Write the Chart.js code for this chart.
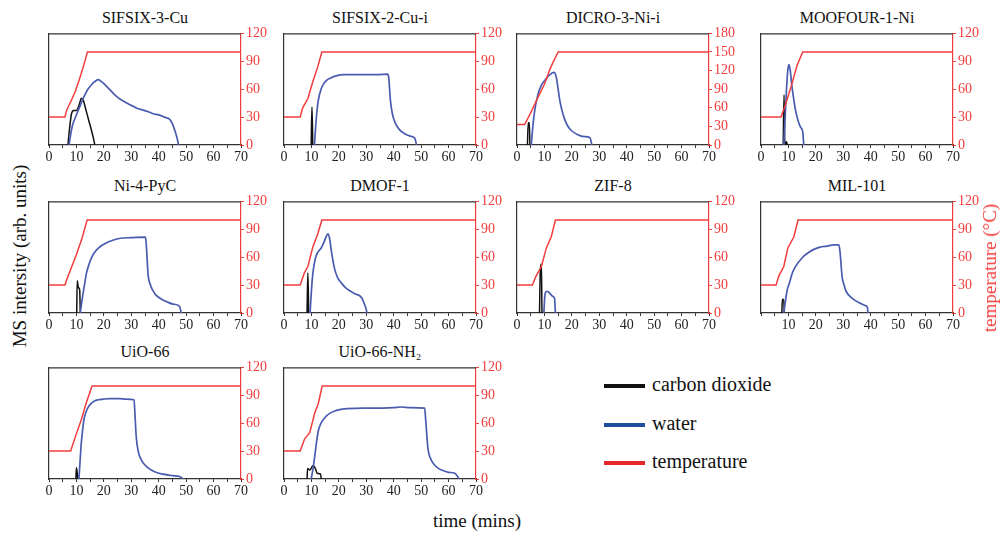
<!DOCTYPE html>
<html>
<head>
<meta charset="utf-8">
<script src="https://cdn.jsdelivr.net/npm/chart.js@4.4.1/dist/chart.umd.min.js"></script>
<style>
  body { margin: 0; background: #fff; }
  #wrap { position: relative; width: 1000px; height: 533px; overflow: hidden; font-family: "Times New Roman", Times, "Liberation Serif", serif; color: #111; }
  .panel { position: absolute; }
  .ttl { position: absolute; font-size: 16px; text-align: center; white-space: nowrap; transform: translate(-50%, -50%); }
  .lab { position: absolute; font-size: 19px; white-space: nowrap; transform: translate(-50%, -50%); }
  .leg { position: absolute; font-size: 20px; white-space: nowrap; }
  .legline { position: absolute; width: 41px; height: 4px; }
</style>
</head>
<body>
<div id="wrap"></div>
<script>
// panel titles and the right (temperature) axis maximum
var panelNames = ['SIFSIX-3-Cu', 'SIFSIX-2-Cu-i', 'DICRO-3-Ni-i', 'MOOFOUR-1-Ni', 'Ni-4-PyC', 'DMOF-1', 'ZIF-8', 'MIL-101', 'UiO-66', 'UiO-66-NH\u2082'];
var tempMax = [120, 120, 180, 120, 120, 120, 120, 120, 120, 120];
var timeTicks = [0, 10, 20, 30, 40, 50, 60, 70];

// [time (mins), value] ; temperature in °C, MS intensity in % of panel height
var sifsix3Temp = [[0,30],[5.8,30],[6.5,38],[8,47],[9.5,57],[11,70],[12.5,84],[14,100],[70,100]];
var sifsix3Water = [[7.3,0],[7.8,8],[8.5,17],[9.5,24],[10.5,30],[11.5,36],[12.5,42],[13.5,47],[14.5,51],[15.5,54],[16.5,56.5],[18,58.5],[19,57],[20,55],[22,50],[24,45],[26,41],[28,38],[30,35.5],[32,33],[34,31.5],[36,30],[38,28],[40,27],[42,25],[44,23],[45,19],[46,12],[47,3],[47.2,0]];
var sifsix3Co2 = [[6.9,0],[7.5,15],[8.2,28],[9,31],[10,31],[11,36],[11.8,42],[12.5,40],[13.5,31],[14.5,22],[15.5,13],[16.2,6],[16.7,0]];

var sifsix2Temp = [[0,30],[5.9,30],[6.8,40],[8.7,50],[10.5,68],[12.3,84],[13.8,100],[70,100]];
var sifsix2Water = [[11.1,0],[11.5,15],[12,30],[12.5,40],[13.5,50],[14.5,55],[15.5,58],[17,60],[19,62],[22,63],[26,63],[30,63],[34,63],[37.8,63.5],[38.2,60],[38.8,40],[39.5,28],[40.5,20],[42,14],[44,10],[46,8],[47.7,6],[48.3,0]];
var sifsix2Co2 = [[9.9,0],[10.2,34],[10.5,0]];

var dicroTemp = [[0,33],[2.8,33],[5,52],[8,80],[10,98],[12,122],[13.3,135],[15,150],[70,150]];
var dicroWater = [[5.2,0],[5.6,12],[6.4,30],[7.7,46],[9,54],[10.5,59],[12,63],[13.5,65],[14.3,61],[15,50],[15.6,40],[16.5,30],[17.4,23],[18.5,17],[19.8,13],[22,9.5],[24.5,7.5],[26.6,6.5],[27.3,0]];
var dicroCo2 = [[3.8,0],[4.1,20],[4.5,20],[4.7,0]];

var moofourTemp = [[0,30],[7.3,30],[9,44],[11,63],[13.2,86],[15.2,100],[70,100]];
var moofourWater = [[8.3,0],[8.8,25],[9.3,50],[9.7,65],[10.1,72],[10.6,68],[11.3,52],[12,40],[12.6,31],[13.5,22],[14.4,16],[15.2,12],[15.6,0]];
var moofourCo2 = [[8.1,0],[8.4,45],[8.7,0],[9.3,3],[9.6,0]];

var ni4pycTemp = [[0,30],[5.8,30],[7,40],[8.7,53],[10,63],[12,80],[13.9,100],[70,100]];
var ni4pycWater = [[11.4,0],[12.2,14],[13,26],[13.6,35],[14.5,43],[15.4,49],[16.5,54],[17.9,58],[19.5,61],[21,63],[23,65],[26,67],[30,67.5],[35.2,68],[35.5,60],[36.1,35],[37,25],[37.9,20],[39,16],[40.9,12.5],[43,10],[45.2,8],[47.6,6],[48.2,0]];
var ni4pycCo2 = [[10.1,0],[10.3,29],[10.6,24],[11,22],[11.2,20],[11.4,0]];

var dmofTemp = [[0,30],[5.9,30],[7.4,43],[8.7,50],[10.5,71],[12.3,85],[13.8,100],[70,100]];
var dmofWater = [[9.5,0],[10,20],[10.5,35],[11.1,45],[11.7,51],[12.5,55],[13.5,58],[14.5,63],[15.3,68],[16,71],[16.6,67],[17.3,55],[18.4,40],[19.5,32],[20.9,27],[22.5,22.5],[24,20],[26,17],[27.6,15.5],[28.5,13],[29.3,8],[30,3],[30.2,0]];
var dmofCo2 = [[8.4,0],[8.7,36],[9,0]];

var zif8Temp = [[0,30],[5.6,30],[7,40],[8.9,50],[10.7,70],[12.5,82],[14,100],[70,100]];
var zif8Water = [[9.8,0],[10.1,14],[10.5,19],[11.1,19.5],[12,17.5],[13,15],[13.7,13],[14,0]];
var zif8Co2 = [[8.2,0],[8.5,38],[8.9,44],[9.1,0]];

var mil101Temp = [[0,30],[5.5,30],[6.5,40],[8.3,50],[9.8,70],[12,82],[13.5,100],[70,100]];
var mil101Water = [[8.3,0],[9,12],[9.5,20],[10.5,28],[11.3,35],[12.2,40],[13.2,44],[14.5,48],[15.6,51],[17.5,54.5],[19.3,57],[21.5,59],[24.1,60],[26.5,61],[28.4,61],[28.8,55],[29.6,32],[30.3,25],[30.9,20],[32,16],[33.9,12],[36,9],[38.2,6.5],[38.8,5],[39,0]];
var mil101Co2 = [[7.6,0],[7.8,12],[8.3,12],[8.5,0]];

var uio66Temp = [[0,30],[7.9,30],[9.9,48],[11.8,64],[13.6,82],[15.7,100],[70,100]];
var uio66Water = [[10.9,0],[11.3,15],[11.8,33],[12.3,45],[12.8,54],[13.5,60],[14.2,64],[15.3,67.5],[16.6,70],[18,71],[19.7,71.5],[22,72],[25.8,72],[28,71.5],[31,71],[31.3,60],[31.8,38],[32.5,25],[33.7,17],[35,12.5],[36.1,10],[38.5,6.5],[41.6,4.3],[45,3],[47.6,2.2],[49,0]];
var uio66Co2 = [[9.8,0],[10,10],[10.3,5],[10.5,0]];

var uio66nh2Temp = [[0,30],[5.9,30],[7.5,43],[9.4,50],[11.2,71],[12.5,81],[13.9,100],[70,100]];
var uio66nh2Water = [[9.9,0],[10.5,8],[11.2,20],[11.8,32],[12.5,43],[13.3,49],[14.3,53],[15.5,56.5],[16.8,59],[18.5,61],[19.9,62],[23,63],[29,63.5],[35,63.5],[40,64],[42.7,64.5],[46,64],[51.3,63.5],[51.6,55],[52.5,27],[53.5,18],[54.4,14],[56,10],[57.5,8],[60,6],[62.4,5],[63.9,0]];
var uio66nh2Co2 = [[8.4,0],[8.6,9.5],[9.4,8],[10.6,12],[11.5,9],[12.1,5],[13.3,4.5],[13.6,0]];

var tempSeries = [sifsix3Temp, sifsix2Temp, dicroTemp, moofourTemp, ni4pycTemp, dmofTemp, zif8Temp, mil101Temp, uio66Temp, uio66nh2Temp];
var waterSeries = [sifsix3Water, sifsix2Water, dicroWater, moofourWater, ni4pycWater, dmofWater, zif8Water, mil101Water, uio66Water, uio66nh2Water];
var co2Series = [sifsix3Co2, sifsix2Co2, dicroCo2, moofourCo2, ni4pycCo2, dmofCo2, zif8Co2, mil101Co2, uio66Co2, uio66nh2Co2];

// layout of the plot boxes
var colLeft = [49, 284, 517, 761];
var rowTop = [31, 199, 365];
var plotW = 192, plotH = 114;

var RED = '#f23c3c', BLUE = '#4a5cb0', BLACK = '#111', FRAME = '#333';
var serif = '"Times New Roman", Times, "Liberation Serif", serif';
var wrap = document.getElementById('wrap');

function pts(arr) {
  return arr.map(function(p){ return {x: p[0], y: p[1]}; });
}

// top edge of the box
var framePlugin = {
  id: 'frame',
  afterDraw: function(chart) {
    var a = chart.chartArea, c = chart.ctx;
    c.save();
    c.strokeStyle = FRAME;
    c.lineWidth = 1.2;
    c.beginPath();
    c.moveTo(a.left, a.top + 0.5);
    c.lineTo(a.right, a.top + 0.5);
    c.stroke();
    c.restore();
  }
};

for (var i = 0; i < panelNames.length; i++) {
  var pl = colLeft[i % 4], pt = rowTop[Math.floor(i / 4)];

  var t = document.createElement('div');
  t.className = 'ttl';
  t.style.left = (pl + plotW / 2) + 'px';
  t.style.top = (pt - 13) + 'px';
  t.textContent = panelNames[i];
  wrap.appendChild(t);

  var box = document.createElement('div');
  box.className = 'panel';
  box.style.left = (pl - 8) + 'px';
  box.style.top = (pt - 8) + 'px';
  box.style.width = (8 + plotW + 34) + 'px';
  box.style.height = (8 + plotH + 22) + 'px';
  var cv = document.createElement('canvas');
  box.appendChild(cv);
  wrap.appendChild(box);

  var skipZero = (i === 7);
  new Chart(cv.getContext('2d'), {
    type: 'line',
    data: {
      datasets: [
        { label: 'temperature', data: pts(tempSeries[i]), yAxisID: 'y1', borderColor: RED, borderWidth: 1.5, pointRadius: 0, tension: 0 },
        { label: 'water', data: pts(waterSeries[i]), yAxisID: 'y', borderColor: BLUE, borderWidth: 1.7, pointRadius: 0, cubicInterpolationMode: 'monotone' },
        { label: 'carbon dioxide', data: pts(co2Series[i]), yAxisID: 'y', borderColor: BLACK, borderWidth: 1.5, pointRadius: 0, cubicInterpolationMode: 'monotone' }
      ]
    },
    options: {
      responsive: true,
      maintainAspectRatio: false,
      animation: false,
      layout: { padding: { left: 8, top: 8, right: 0, bottom: 0 } },
      plugins: { legend: { display: false }, tooltip: { enabled: false }, title: { display: false } },
      scales: {
        x: {
          type: 'linear', min: 0, max: 70,
          grid: { drawOnChartArea: false, drawTicks: true, tickLength: 3, color: FRAME },
          border: { color: FRAME, width: 1.2 },
          ticks: {
            stepSize: 5, autoSkip: false, maxRotation: 0, padding: 1,
            color: '#222', font: { family: serif, size: 14 },
            callback: (function(sz) {
              return function(v) {
                if (v % 10 !== 0) return '';
                if (sz && v === 0) return '';
                return timeTicks.indexOf(v) >= 0 ? String(v) : '';
              };
            })(skipZero)
          },
          afterFit: function(s) { s.height = 22; }
        },
        y: {
          position: 'left', min: 0, max: 100,
          grid: { display: false },
          border: { color: FRAME, width: 1.2 },
          ticks: { display: false },
          afterFit: function(s) { s.width = 0; }
        },
        y1: {
          position: 'right', min: 0, max: tempMax[i],
          grid: { drawOnChartArea: false, drawTicks: true, tickLength: 3, color: RED },
          border: { color: RED, width: 1.2 },
          ticks: { stepSize: 30, autoSkip: false, color: RED, padding: 2, font: { family: serif, size: 14 } },
          afterFit: function(s) { s.width = 34; }
        }
      }
    },
    plugins: [framePlugin]
  });
}

// shared axis titles
function addLabel(text, x, y, rot, color) {
  var d = document.createElement('div');
  d.className = 'lab';
  d.textContent = text;
  d.style.left = x + 'px';
  d.style.top = y + 'px';
  d.style.color = color;
  if (rot) d.style.transform = 'translate(-50%, -50%) rotate(-90deg)';
  wrap.appendChild(d);
}
addLabel('MS intersity (arb. units)', 20, 256, true, '#111');
addLabel('temperature (\u00b0C)', 990, 268, true, RED);
addLabel('time (mins)', 477, 521, false, '#111');

// legend
var legendNames = ['carbon dioxide', 'water', 'temperature'];
var legendColors = ['#111', '#1f4e9e', '#e8272b'];
var legendY = [386, 425, 463];
for (var k = 0; k < legendNames.length; k++) {
  var ln = document.createElement('div');
  ln.className = 'legline';
  ln.style.left = '604px';
  ln.style.top = (legendY[k] - 2) + 'px';
  ln.style.background = legendColors[k];
  wrap.appendChild(ln);
  var lt = document.createElement('div');
  lt.className = 'leg';
  lt.style.left = '652px';
  lt.style.top = (legendY[k] - 13) + 'px';
  lt.textContent = legendNames[k];
  wrap.appendChild(lt);
}
</script>
</body>
</html>
